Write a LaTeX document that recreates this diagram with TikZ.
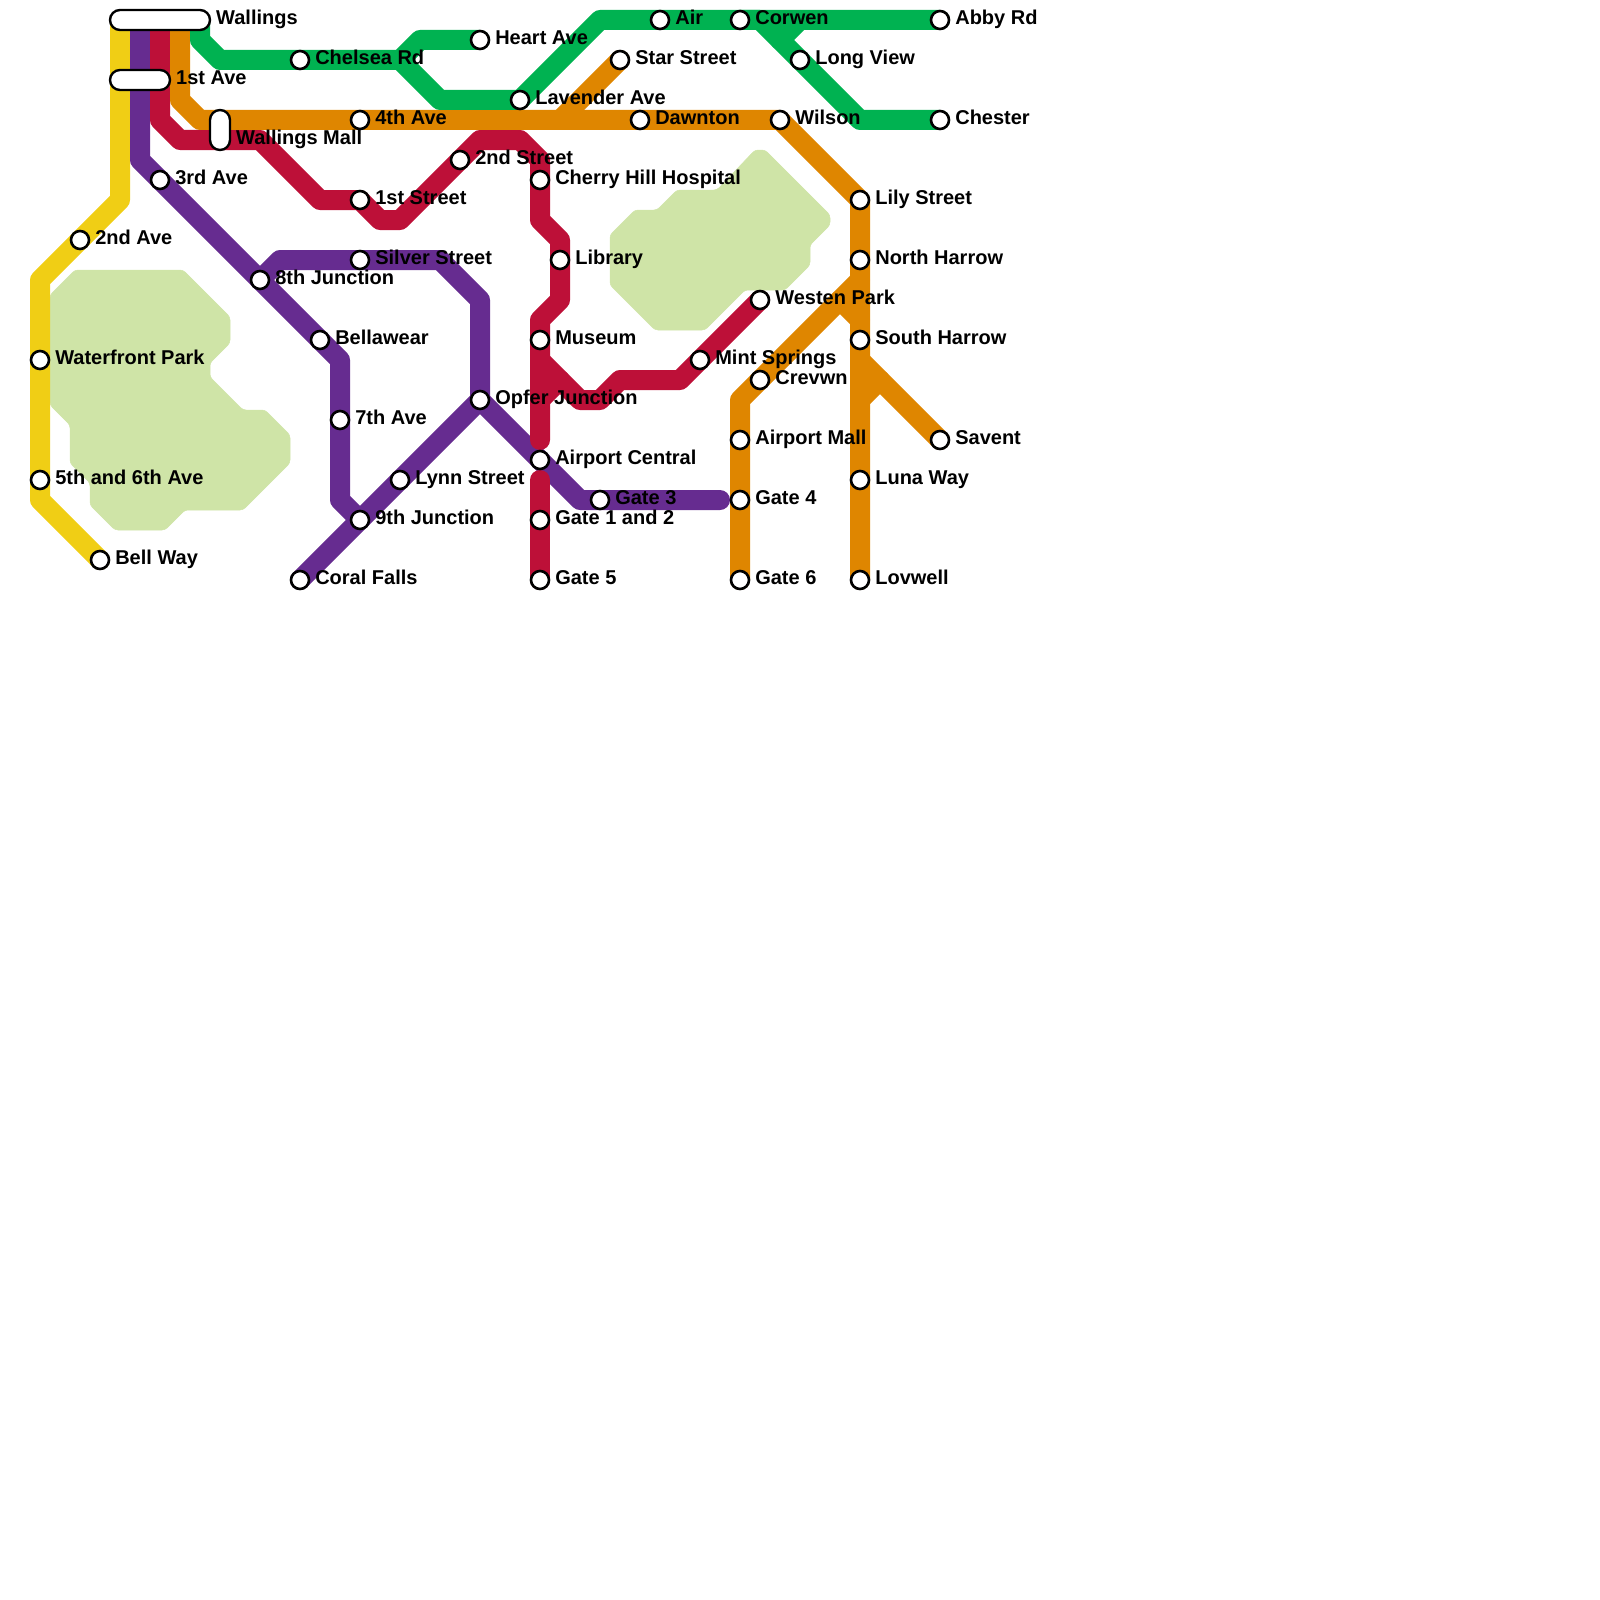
\documentclass[tikz,border=0pt]{standalone}
\usepackage{fontspec}
\setmainfont{Liberation Sans}
\usetikzlibrary{backgrounds}
\definecolor{lineyellow}{HTML}{F0CE15}
\definecolor{linepurple}{HTML}{662C90}
\definecolor{linered}{HTML}{BD1038}
\definecolor{lineorange}{HTML}{DF8600}
\definecolor{linegreen}{HTML}{00B251}
\definecolor{parkgreen}{HTML}{CFE4A7}
\begin{document}
\begin{tikzpicture}[x=20pt, y=-20pt,
    stn/.style={draw, circle, fill=white, line width=2.6pt, inner sep=0pt, minimum size=18pt},
    pill/.style={draw, rectangle, rounded corners=10pt, fill=white, line width=2.4pt, inner sep=0pt},
    lbl/.style={font=\fontsize{20}{22}\selectfont\bfseries, inner sep=0pt, text height=14pt, text depth=4.5pt, label distance=4.8pt},
    metro/.style={line width=20pt, line cap=round, line join=round},
    park/.style={fill=parkgreen, draw=parkgreen, line width=0.5pt, rounded corners=3pt}]

\useasboundingbox (0,0) rectangle (80,80);

% interchanges
\node[pill, minimum width=100pt, minimum height=20pt, label={[lbl]right:Wallings}] (wallings) at (8,1) {};
\node[pill, minimum width=60pt, minimum height=20pt, label={[lbl]right:1st Ave}] (firstave) at (7,4) {};
\node[pill, minimum width=20pt, minimum height=40pt, label={[lbl, yshift=-10pt]right:Wallings Mall}] (wmall) at (11,6.5) {};

% yellow stations
\node[stn, label={[lbl]right:2nd Ave}] (secondave) at (4,12) {};
\node[stn, label={[lbl]right:Waterfront Park}] (waterfront) at (2,18) {};
\node[stn, label={[lbl]right:5th and 6th Ave}] (fifthsixth) at (2,24) {};
\node[stn, label={[lbl]right:Bell Way}] (bellway) at (5,28) {};

% purple stations
\node[stn, label={[lbl]right:3rd Ave}] (thirdave) at (8,9) {};
\node[stn, label={[lbl]right:8th Junction}] (eighth) at (13,14) {};
\node[stn, label={[lbl]right:Bellawear}] (bellawear) at (16,17) {};
\node[stn, label={[lbl]right:7th Ave}] (seventh) at (17,21) {};
\node[stn, label={[lbl]right:9th Junction}] (ninth) at (18,26) {};
\node[stn, label={[lbl]right:Coral Falls}] (coral) at (15,29) {};
\node[stn, label={[lbl]right:Lynn Street}] (lynn) at (20,24) {};
\node[stn, label={[lbl]right:Opfer Junction}] (opfer) at (24,20) {};
\node[stn, label={[lbl]right:Silver Street}] (silver) at (18,13) {};
\node[stn, label={[lbl]right:Airport Central}] (central) at (27,23) {};
\node[stn, label={[lbl]right:Gate 3}] (gatethree) at (30,25) {};

% red stations
\node[stn, label={[lbl]right:1st Street}] (firststreet) at (18,10) {};
\node[stn, label={[lbl]right:2nd Street}] (secondstreet) at (23,8) {};
\node[stn, label={[lbl]right:Cherry Hill Hospital}] (cherry) at (27,9) {};
\node[stn, label={[lbl]right:Library}] (library) at (28,13) {};
\node[stn, label={[lbl]right:Museum}] (museum) at (27,17) {};
\node[stn, label={[lbl]right:Mint Springs}] (mint) at (35,18) {};
\node[stn, label={[lbl]right:Westen Park}] (westen) at (38,15) {};
\node[stn, label={[lbl]right:Gate 1 and 2}] (gateonetwo) at (27,26) {};
\node[stn, label={[lbl]right:Gate 5}] (gatefive) at (27,29) {};

% orange stations
\node[stn, label={[lbl]right:4th Ave}] (fourthave) at (18,6) {};
\node[stn, label={[lbl]right:Star Street}] (star) at (31,3) {};
\node[stn, label={[lbl]right:Dawnton}] (dawnton) at (32,6) {};
\node[stn, label={[lbl]right:Wilson}] (wilson) at (39,6) {};
\node[stn, label={[lbl]right:Lily Street}] (lily) at (43,10) {};
\node[stn, label={[lbl]right:North Harrow}] (northharrow) at (43,13) {};
\node[stn, label={[lbl]right:South Harrow}] (southharrow) at (43,17) {};
\node[stn, label={[lbl]right:Savent}] (savent) at (47,22) {};
\node[stn, label={[lbl]right:Luna Way}] (luna) at (43,24) {};
\node[stn, label={[lbl]right:Lovwell}] (lovwell) at (43,29) {};
\node[stn, label={[lbl]right:Crevwn}] (crevwn) at (38,19) {};
\node[stn, label={[lbl]right:Airport Mall}] (airportmall) at (37,22) {};
\node[stn, label={[lbl]right:Gate 4}] (gatefour) at (37,25) {};
\node[stn, label={[lbl]right:Gate 6}] (gatesix) at (37,29) {};

% green stations
\node[stn, label={[lbl]right:Chelsea Rd}] (chelsea) at (15,3) {};
\node[stn, label={[lbl]right:Heart Ave}] (heart) at (24,2) {};
\node[stn, label={[lbl]right:Lavender Ave}] (lavender) at (26,5) {};
\node[stn, label={[lbl]right:Air}] (air) at (33,1) {};
\node[stn, label={[lbl]right:Corwen}] (corwen) at (37,1) {};
\node[stn, label={[lbl]right:Abby Rd}] (abby) at (47,1) {};
\node[stn, label={[lbl]right:Long View}] (longview) at (40,3) {};
\node[stn, label={[lbl]right:Chester}] (chester) at (47,6) {};

% free line ends
\coordinate (yellowtop) at (6,1);
\coordinate (purpletop) at (7,1);
\coordinate (redtop) at (8,1);
\coordinate (orangetop) at (9,1);
\coordinate (greentop) at (10,1);
\coordinate (purpleend) at (36,25);
\coordinate (redstub) at (28,19);
\coordinate (redgap) at (27,22);
\coordinate (redlow) at (27,24);
\coordinate (orangejoin) at (43,14);
\coordinate (orangeknee) at (43,16);
\coordinate (orangefork) at (43,18);
\coordinate (orangesplit) at (43,20);

\begin{scope}[on background layer]
% parks
\path[park] (2.5,14.75) -- (3.75,13.5) -- (9.15,13.5) -- (11.5,15.85) -- (11.5,17.15) -- (10.5,18.15) -- (10.5,18.85) -- (12.15,20.5) -- (13.25,20.5) -- (14.5,21.75) -- (14.5,23.15) -- (12.15,25.5) -- (9.25,25.5) -- (8.25,26.5) -- (5.75,26.5) -- (4.5,25.25) -- (4.5,24.15) -- (3.5,23.15) -- (3.5,21.25) -- (2.5,20.25) -- cycle;
\path[park] (30.5,11.75) -- (31.75,10.5) -- (32.85,10.5) -- (33.85,9.5) -- (35.85,9.5) -- (37.75,7.5) -- (38.25,7.5) -- (41.5,10.75) -- (41.5,11.25) -- (40.5,12.25) -- (40.5,13.25) -- (39.25,14.5) -- (37.25,14.5) -- (35.25,16.5) -- (32.75,16.5) -- (30.5,14.25) -- cycle;

% yellow line
\draw[metro, lineyellow] (yellowtop) -- (6,10) -- (secondave.center) -- (2,14) -- (waterfront.center) -- (fifthsixth.center) -- (2,25) -- (bellway.center);

% purple line
\draw[metro, linepurple] (purpletop) -- (7,8) -- (thirdave.center) -- (eighth.center) -- (bellawear.center) -- (17,18) -- (seventh.center) -- (17,25) -- (ninth.center);
\draw[metro, linepurple] (eighth.center) -- (14,13) -- (silver.center) -- (22,13) -- (24,15) -- (opfer.center);
\draw[metro, linepurple] (coral.center) -- (ninth.center) -- (lynn.center) -- (opfer.center) -- (central.center) -- (29,25) -- (gatethree.center) -- (purpleend);

% red line
\draw[metro, linered] (redtop) -- (8,6) -- (9,7) -- (13,7) -- (16,10) -- (firststreet.center) -- (19,11) -- (20,11) -- (secondstreet.center) -- (24,7) -- (26,7) -- (27,8) -- (cherry.center) -- (27,11) -- (28,12) -- (library.center) -- (28,15) -- (27,16) -- (museum.center) -- (redgap);
\draw[metro, linered] (27,18) -- (29,20) -- (30,20) -- (31,19) -- (34,19) -- (mint.center) -- (westen.center);
\draw[metro, linered] (27,20) -- (redstub);
\draw[metro, linered] (redlow) -- (gateonetwo.center) -- (gatefive.center);

% orange line
\draw[metro, lineorange] (orangetop) -- (9,5) -- (10,6) -- (fourthave.center) -- (dawnton.center) -- (wilson.center) -- (lily.center) -- (northharrow.center) -- (southharrow.center) -- (luna.center) -- (lovwell.center);
\draw[metro, lineorange] (star.center) -- (28,6);
\draw[metro, lineorange] (gatesix.center) -- (gatefour.center) -- (airportmall.center) -- (37,20) -- (crevwn.center) -- (orangejoin);
\draw[metro, lineorange] (42,15) -- (orangeknee);
\draw[metro, lineorange] (orangefork) -- (savent.center);
\draw[metro, lineorange] (orangesplit) -- (44,19);

% green line
\draw[metro, linegreen] (greentop) -- (10,2) -- (11,3) -- (chelsea.center) -- (20,3) -- (21,2) -- (heart.center);
\draw[metro, linegreen] (20,3) -- (22,5) -- (lavender.center) -- (30,1) -- (air.center) -- (corwen.center) -- (abby.center);
\draw[metro, linegreen] (corwen.center) -- (38,1) -- (longview.center) -- (43,6) -- (chester.center);
\draw[metro, linegreen] (40,1) -- (39,2);
\end{scope}

\end{tikzpicture}
\end{document}
